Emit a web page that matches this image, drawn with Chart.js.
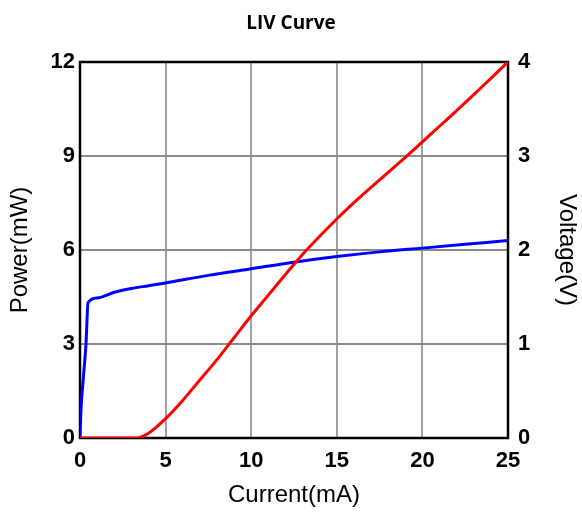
<!DOCTYPE html>
<html>
<head>
<meta charset="utf-8">
<title>LIV Curve</title>
<script src="https://cdn.jsdelivr.net/npm/chart.js@4.4.1/dist/chart.umd.min.js"></script>
<style>
  html, body { margin: 0; padding: 0; background: #fff; }
  #wrap { width: 582px; height: 516px; }
</style>
</head>
<body>
<div id="wrap"><canvas id="livChart" width="582" height="516"></canvas></div>
<script>
// Power (red, left axis) vs current
const powerCurrent = [0, 3.3, 4, 5, 6, 7, 8, 9, 10, 11, 12, 13, 14, 15, 16, 17, 18, 19, 20, 21, 22, 23, 24, 25];
const powerValues = [0, 0, 0.15, 0.62, 1.2, 1.85, 2.5, 3.2, 3.9, 4.56, 5.22, 5.86, 6.44, 6.99, 7.51, 8.0, 8.48, 8.96, 9.45, 9.95, 10.45, 10.96, 11.48, 12];

// Voltage (blue, right axis) vs current
const voltageCurrent = [0, 0.05, 0.2, 0.35, 0.47, 1, 2, 3, 4, 5, 7.5, 10, 12.5, 15, 17.5, 20, 22.5, 25];
const voltageValues = [0, 0.27, 0.65, 1.0, 1.44, 1.49, 1.55, 1.59, 1.62, 1.65, 1.73, 1.8, 1.87, 1.93, 1.98, 2.02, 2.06, 2.1];

// tick labels
const currentTicks = [0, 5, 10, 15, 20, 25];
const powerTicks = [0, 3, 6, 9, 12];
const voltageTicks = [0, 1, 2, 3, 4];

function toPoints(xs, ys) {
    return xs.map((x, i) => ({ x: x, y: ys[i] }));
}

// draws the black box round the plot area
const frameBox = {
    id: 'frameBox',
    beforeDatasetsDraw(chart) {
        const { ctx, chartArea: a } = chart;
        ctx.save();
        ctx.strokeStyle = '#000';
        ctx.lineWidth = 2.5;
        ctx.strokeRect(a.left, a.top, a.right - a.left, a.bottom - a.top);
        ctx.restore();
    }
};

const tickFont = { family: "'Liberation Sans', Arial, sans-serif", size: 22, weight: 'bold' };
const titleFont = { family: "'Liberation Sans', Arial, sans-serif", size: 24 };

const ctx = document.getElementById('livChart').getContext('2d');
const livChart = new Chart(ctx, {
    type: 'line',
    data: {
        datasets: [{
            label: 'Power',
            data: toPoints(powerCurrent, powerValues),
            borderColor: '#ff0000',
            borderWidth: 3,
            pointRadius: 0,
            cubicInterpolationMode: 'monotone',
            yAxisID: 'yP'
        }, {
            label: 'Voltage',
            data: toPoints(voltageCurrent, voltageValues),
            borderColor: '#0000ff',
            borderWidth: 3,
            pointRadius: 0,
            cubicInterpolationMode: 'monotone',
            yAxisID: 'yV'
        }]
    },
    options: {
        responsive: false,
        animation: false,
        layout: { padding: 0 },
        plugins: {
            legend: { display: false },
            tooltip: { enabled: false },
            title: {
                display: true,
                text: 'LIV Curve',
                color: '#000',
                font: { family: "'Open Sans', sans-serif", size: 19, weight: 'bold' },
                padding: { top: 12, bottom: 27.2 }
            }
        },
        scales: {
            x: {
                type: 'linear',
                min: 0,
                max: 25,
                afterBuildTicks: (s) => { s.ticks = currentTicks.map(v => ({ value: v })); },
                afterFit: (s) => { s.height = 78; },
                ticks: { color: '#000', font: tickFont, padding: 10, maxRotation: 0 },
                grid: { color: '#a0a0a0', lineWidth: 2, drawTicks: false },
                border: { display: false },
                title: { display: true, text: 'Current(mA)', color: '#000', font: titleFont, padding: { top: 0, bottom: 6.5 } }
            },
            yP: {
                type: 'linear',
                position: 'left',
                min: 0,
                max: 12,
                afterBuildTicks: (s) => { s.ticks = powerTicks.map(v => ({ value: v })); },
                afterFit: (s) => { s.width = 80; },
                ticks: { color: '#000', font: tickFont, padding: 5 },
                grid: { color: '#8a8a8a', lineWidth: 2, drawTicks: false },
                border: { display: false },
                title: { display: true, text: 'Power(mW)', color: '#000', font: titleFont, padding: { top: 6, bottom: 0 } }
            },
            yV: {
                type: 'linear',
                position: 'right',
                min: 0,
                max: 4,
                afterBuildTicks: (s) => { s.ticks = voltageTicks.map(v => ({ value: v })); },
                afterFit: (s) => { s.width = 74; },
                ticks: { color: '#000', font: tickFont, padding: 10 },
                grid: { display: false, drawTicks: false },
                border: { display: false },
                title: { display: true, text: 'Voltage(V)', color: '#000', font: titleFont, padding: { top: 1, bottom: 0 } }
            }
        }
    },
    plugins: [frameBox]
});
</script>
</body>
</html>
